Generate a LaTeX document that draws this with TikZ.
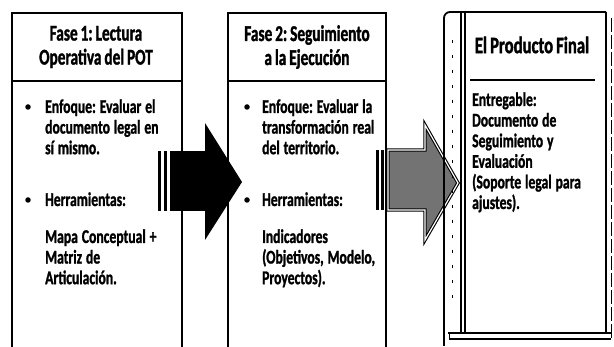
\documentclass[tikz,border=0pt]{standalone}
\usepackage{fontspec}
\setmainfont{Carlito}[FakeStretch=0.70, BoldFeatures={FakeBold=1.2}]
\newfontfamily\tfont{Carlito}[FakeStretch=0.68, WordSpace=0.85, BoldFeatures={FakeBold=1.4}]
\newfontfamily\tfontb{Carlito}[FakeStretch=0.71, WordSpace=0.8, BoldFeatures={FakeBold=1.4}]
\frenchspacing
\begin{document}
\begin{tikzpicture}[x=1pt,y=-1pt,
  box/.style={draw, line width=1.6pt, inner sep=0pt, anchor=north west},
  ttl/.style={font=\tfont\bfseries\fontsize{22.5}{24}\selectfont, align=center, inner sep=0pt},
  body/.style={font=\bfseries\fontsize{19.5}{20.6}\selectfont, anchor=base west, align=left, text width=150pt, inner sep=0pt,
    execute at begin node={\spaceskip=0.2em\relax\xspaceskip=0.2em\relax}},
  bdot/.style={circle, fill, inner sep=0pt, minimum size=5.5pt},
  rule/.style={line width=1.6pt}]
\useasboundingbox (0,0) rectangle (614,347);
\fill[white] (0,0) rectangle (614,347);

% Phase 1
\node[box, minimum width=170pt, minimum height=345pt] (f1) at (11,12) {};
\draw[rule] (11,81) coordinate (d1a) -- (181,81) coordinate (d1b);
\node[ttl] (t1) at (96,47) {Fase 1: Lectura\\Operativa del POT};
\node[bdot] (b11) at (28,107) {};
\node[body] (e11) at (45,113) {Enfoque: Evaluar el\\documento legal en\\sí mismo.};
\node[bdot] (b12) at (28,200) {};
\node[body] (e12) at (45,206) {Herramientas:};
\node[body] (e13) at (45,243) {Mapa Conceptual +\\Matriz de\\Articulación.};

% Phase 2
\node[box, minimum width=158pt, minimum height=345pt] (f2) at (227,12) {};
\draw[rule] (227,81) -- (385,81);
\node[ttl] (t2) at (307,47) {Fase 2: Seguimiento\\a la Ejecución};
\node[bdot] (b21) at (247,107) {};
\node[body] (e21) at (262,113) {Enfoque: Evaluar la\\transformación real\\del territorio.};
\node[bdot] (b22) at (247,200) {};
\node[body] (e22) at (262,206) {Herramientas:};
\node[body] (e23) at (262,243) {Indicadores\\(Objetivos, Modelo,\\Proyectos).};

% black arrow
\fill (158,151) rectangle (161,211);
\fill (164,151) rectangle (167,211);
\fill (170,151) rectangle (205,211);
\fill (205,123) -- (242,182) -- (205,240) -- cycle;

% grey arrow
\fill (376,150) rectangle (378.5,210);
\fill (381,150) rectangle (384,210);
\draw[line width=1.1pt, fill=black!55, double=white, double distance=1.2pt]
  (388,150) -- (425,150) -- (425,125) -- (458,183) -- (425,240) -- (425,210) -- (388,210) -- cycle;

% book
\node[inner sep=0pt, minimum width=162pt, minimum height=334pt, anchor=north west] (bk) at (444,12) {};
\draw[line width=1.8pt, rounded corners=6pt] (606,12) -- (444,12) -- (444,346);
\draw[line width=1.6pt] (606,12) -- (606,333);
\draw[line width=0.6pt, dash pattern=on 14pt off 3pt] (611,18) -- (611,340);
\draw[line width=1.2pt] (461,12) -- (461,333);
\draw[line width=1.2pt] (465,12) -- (465,333);
\draw[line width=0.6pt, dash pattern=on 3pt off 12pt] (452,40) -- (452,300);
\draw[line width=2pt] (448,333) -- (611,333);
\draw[line width=1.2pt] (450,339) -- (611,339);
\draw[line width=1pt] (449,333) -- (449,340);
\node[ttl, font=\tfontb\bfseries\fontsize{23.5}{24}\selectfont] (t3) at (532,45) {El Producto Final};
\draw[line width=1.2pt] (470,80) -- (595,80);
\node[body] (e31) at (472,106) {Entregable:\\Documento de\\Seguimiento y\\Evaluación\\(Soporte legal para\\ajustes).};
\end{tikzpicture}
\end{document}
